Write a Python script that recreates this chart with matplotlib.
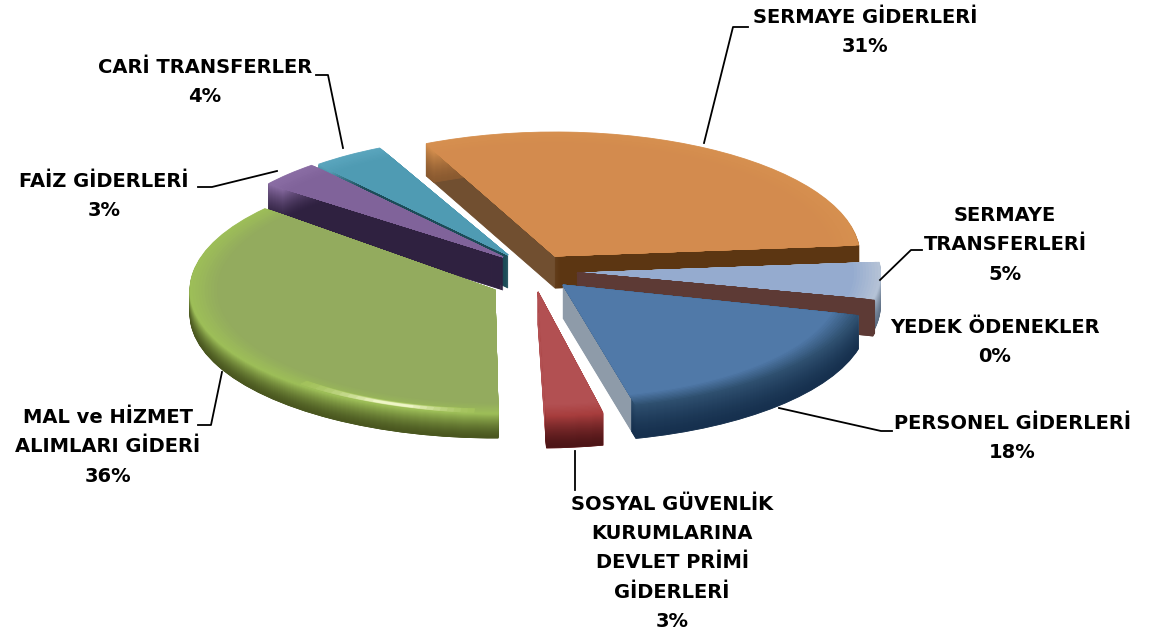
# -*- coding: utf-8 -*-
## Exploded "3D" pie of budget spending, faked by stacking pie layers
import matplotlib
matplotlib.use('Agg')
import matplotlib.pyplot as plt
import matplotlib.colors as mcolors
import numpy as np

## Data
categories = ['SERMAYE GİDERLERİ', 'SERMAYE\nTRANSFERLERİ', 'YEDEK ÖDENEKLER', 'PERSONEL GİDERLERİ',
              'SOSYAL GÜVENLİK\nKURUMLARINA\nDEVLET PRİMİ\nGİDERLERİ', 'MAL ve HİZMET\nALIMLARI GİDERİ',
              'FAİZ GİDERLERİ', 'CARİ TRANSFERLER']
values = [31, 5, 0.4, 18, 3, 35.8, 3.4, 4]
pct_labels = ['31%', '5%', '0%', '18%', '3%', '36%', '3%', '4%']

## Styles, same order as the values
top_col = ['#D38B4E', '#95ABCF', '#5D3A35', '#5079A8', '#B25052', '#93AB5E', '#80639A', '#4F9BB3']
wall_col = ['#714F30', '#6F7F95', '#5D3A35', '#8E9BA9', '#B25052', '#4F5C22', '#2F2140', '#1C4C58']
rim_dark = ['#8A5A30', '#5F7085', '#5D3A35', '#16304E', '#4D1517', '#4A5720', '#2F2140', '#1C4C58']
rim_mid = ['#D6904F', '#B4C2D6', '#5D3A35', '#2F5070', '#A83E3E', '#9DBE58', '#8A6DA4', '#5AA5BD']

## tip of each slice in pixels
tip_x = [555, 580, 577, 563, 538, 495, 503, 508]
tip_y = [256, 273, 273, 285, 292, 290, 257, 255]
depth = [32, 32, 32, 33, 32, 24, 33, 33]
scale = [1., .985, 1., 1., 1., 1., .97, .96]
## small turn of the slice edges (the original is a perspective view)
turn_lo = [0, 0, 0, 2.5, 1, -3.5, 0, 0]
turn_hi = [-1, 0, 0, 0, 1, 0, 0, 0]
## paint order, back to front
stack = [0, 4, 5, 6, 7, 3, 2, 1]

W, H = 1162, 637
RX, RY = 305., 124.

fig = plt.figure(figsize=(W/100., H/100.), dpi=100)
ax = fig.add_axes([0, 0, 1, 1])


def mix(c1, c2, t):
    a, b = np.array(mcolors.to_rgb(c1)), np.array(mcolors.to_rgb(c2))
    return tuple(a + (b - a)*t)


def layer(drop, radius, colors, width=None, span=None, only=None):
    ## one whole pie, then every wedge is moved onto its own tip
    props = {'linewidth': 0}
    if width is not None:
        props['width'] = width
    wedges, _ = ax.pie(values, colors=colors, radius=radius, startangle=116, counterclock=False,
                       wedgeprops=props)
    for i, w in enumerate(wedges):
        if only is not None and i not in only:
            w.set_visible(False)
            continue
        w.set_center((tip_x[i]/RX, (H - tip_y[i] - drop[i])/RY))
        w.set_radius(radius*scale[i])
        if width is not None:
            w.set_width(width)
        w.set_edgecolor(colors[i])
        w.set_linewidth(1.2 if i == 2 else 0.6)
        w.set_zorder(stack[i] + 1)
        lo, hi = w.theta1 + turn_lo[i], w.theta2 + turn_hi[i]
        if span is not None:
            lo, hi = span[i]
        w.set_theta1(lo)
        w.set_theta2(hi)
    return wedges


none_drop = [0]*len(values)
maxd = max(depth)

## walls, rim and cut faces, from the deepest layer up
for d in np.arange(maxd, 0, -1):
    keep = [i for i in range(len(values)) if d <= depth[i]]
    layer([d]*len(values), 1., wall_col, only=keep)

for d in np.arange(maxd, 0, -1):
    keep = [i for i in range(len(values)) if d <= depth[i]]
    cols = [mix(a, b, (1 - d/float(depth[i]))**1.5) for i, (a, b) in enumerate(zip(rim_dark, rim_mid))]
    layer([d]*len(values), 1., cols, width=0.06, only=keep)

## orange slice has a darker face along its lower edge
for d in np.arange(depth[0], 0, -1):
    layer([d]*len(values), 1., ['#5C3612']*len(values), span=[(5.1, 13.)]*len(values), only=[0])

## top face with a soft bevel
radii = np.linspace(1., 0.91, 10)
for k, r in enumerate(radii):
    t = k/float(len(radii) - 1)
    layer(none_drop, r, [mix(a, b, t) for a, b in zip(rim_mid, top_col)])

## shiny streak on the green slice, narrowing and getting lighter
steps = 10
for k in range(steps):
    t = k/float(steps - 1)
    cols = [mix('#A3C25C', '#F0F7C8', t**1.5)]*len(values)
    span = [(-130 + 16*t, -94 - 12*t)]*len(values)
    layer(none_drop, 0.99 - 0.008*t, cols, width=0.03 - 0.02*t, span=span, only=[5])

ax.set_aspect('auto')
ax.set_xlim(0, W/RX)
ax.set_ylim(0, H/RY)
ax.axis('off')

## overlay in pixels for labels and leader lines
lab = fig.add_axes([0, 0, 1, 1], facecolor='none')
lab.set_xlim(0, W)
lab.set_ylim(H, 0)
lab.axis('off')

label_x = [865, 1005, 995, 1012, 672, 108, 104, 205]
label_y = [32, 245, 342, 438, 563, 447, 196, 82]
for name, pct, x, y in zip(categories, pct_labels, label_x, label_y):
    lab.text(x, y, name + '\n' + pct, ha='center', va='center', fontsize=14, fontweight='bold',
             family='DejaVu Sans', linespacing=1.67, color='black')

leaders = [([704, 733, 748], [143, 27, 27]),
           ([343, 328, 316], [148, 75, 75]),
           ([277, 212, 198], [171, 187, 187]),
           ([222, 211, 198], [372, 425, 425]),
           ([575, 575], [451, 490]),
           ([779, 881, 892], [408, 431, 431]),
           ([880, 911, 922], [280, 250, 250])]
for xs, ys in leaders:
    lab.plot(xs, ys, color='black', lw=1.3)

fig.savefig('out.png', dpi=100)
